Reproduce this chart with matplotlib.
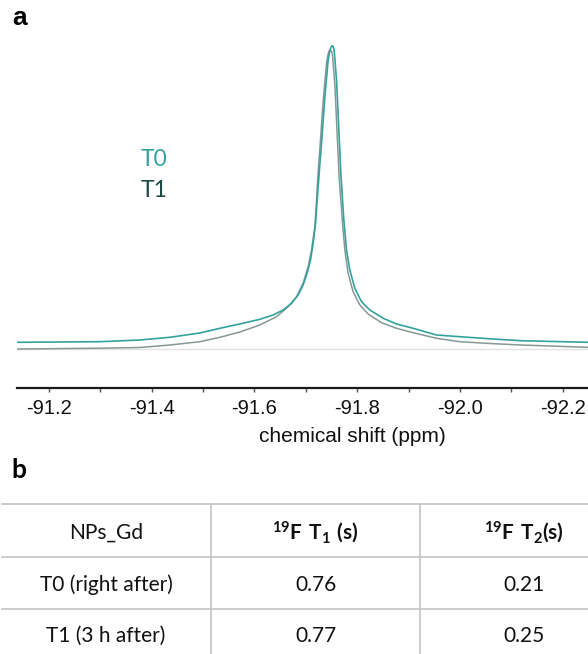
import numpy as np
import matplotlib
matplotlib.use("Agg")
import matplotlib.pyplot as plt
from matplotlib.ticker import MultipleLocator, FormatStrFormatter

plt.rcParams['axes.unicode_minus'] = False
plt.rcParams['mathtext.fontset'] = 'custom'
plt.rcParams['mathtext.rm'] = 'Lato'
plt.rcParams['mathtext.bf'] = 'Lato:bold'

# spectrum T0 (right after)
ppm_t0 = [-91.1377, -91.1436, -91.2992, -91.3770, -91.4354, -91.4938, -91.5327,
          -91.5716, -91.6105, -91.6364, -91.6558, -91.6722, -91.6850, -91.6947,
          -91.7025, -91.7091, -91.7142, -91.7189, -91.7220, -91.7263, -91.7305,
          -91.7370, -91.7434, -91.7459, -91.7481, -91.7512, -91.7531, -91.7551,
          -91.7597, -91.7642, -91.7681, -91.7714, -91.7739, -91.7792, -91.7856,
          -91.7953, -91.8084, -91.8245, -91.8504, -91.8765, -91.9088, -91.9543,
          -91.9996, -92.0580, -92.1183, -92.2486]
int_t0 = [6.7, 6.7, 7.3, 9.0, 11.7, 16.0, 20.7,
          25.0, 29.7, 34.0, 39.0, 45.7, 54.0, 64.0,
          75.7, 89.0, 105.7, 125.7, 149.0, 178.0, 205.7,
          252.0, 289.0, 296.0, 300.7, 303.3, 302.5, 299.0,
          269.0, 219.0, 175.7, 149.0, 129.0, 99.0, 79.0,
          60.7, 47.3, 39.0, 30.7, 25.0, 20.7, 14.0,
          12.3, 10.2, 8.3, 6.7]

# spectrum T1 (3 h after)
ppm_t1 = [-91.1377, -91.1436, -91.2992, -91.3770, -91.4354, -91.4938, -91.5327,
          -91.5716, -91.6105, -91.6430, -91.6656, -91.6819, -91.6947, -91.7045,
          -91.7111, -91.7175, -91.7208, -91.7237, -91.7278, -91.7340, -91.7405,
          -91.7432, -91.7451, -91.7477, -91.7500, -91.7516, -91.7564, -91.7609,
          -91.7648, -91.7681, -91.7714, -91.7759, -91.7823, -91.7920, -91.8051,
          -91.8212, -91.8473, -91.8765, -91.9088, -91.9543, -91.9996, -92.0580,
          -92.1183, -92.2486]
int_t1 = [0.0, 0.0, 0.8, 1.5, 4.0, 7.3, 11.7,
          17.0, 24.0, 32.3, 42.3, 52.3, 65.7, 82.3,
          99.0, 122.3, 149.0, 175.0, 204.0, 250.0, 287.0,
          294.5, 298.0, 299.0, 297.5, 295.0, 265.0, 215.0,
          172.0, 149.0, 125.7, 99.0, 75.7, 57.3, 44.0,
          35.0, 26.3, 20.7, 16.3, 10.7, 7.3, 5.5,
          4.0, 1.7]

# relaxation table
col_headers = ['NPs_Gd', r'$\mathbf{^{19}F\ T_1\ (s)}$', r'$\mathbf{^{19}F\ T_2(s)}$']
row_names = ['T0 (right after)', 'T1 (3 h after)']
t1_vals = ['0.76', '0.77']
t2_vals = ['0.21', '0.25']

teal = '#33a29d'
grey = '#879797'

W, H = 588, 654
fig = plt.figure(figsize=(W / 100, H / 100), dpi=100)

# panel a
ax = fig.add_axes([17 / W, 1 - 388 / H, 1 - 17 / W, (388 - 30) / H])
ax.axhline(0, color='#e2e2e2', lw=1.0, zorder=1)
ax.plot(ppm_t1, int_t1, color=grey, lw=1.1, zorder=2)
ax.plot(ppm_t0, int_t0, color=teal, lw=1.2, zorder=3)
ax.set_xlim(-91.138, -92.249)
ax.set_ylim(-39, 319)
for s in ['left', 'right', 'top']:
    ax.spines[s].set_visible(False)
ax.spines['bottom'].set_linewidth(1.6)
ax.spines['bottom'].set_color('#1a1a1a')
ax.set_yticks([])
ax.xaxis.set_major_locator(MultipleLocator(0.2))
ax.xaxis.set_minor_locator(MultipleLocator(0.1))
ax.xaxis.set_major_formatter(FormatStrFormatter('%.1f'))
ax.tick_params(axis='x', which='both', direction='out', length=3, width=1,
               color='#555555', pad=5)
for lab in ax.get_xticklabels():
    lab.set_fontfamily('Liberation Sans')
    lab.set_fontsize(14.5)
    lab.set_color('#111111')

fig.text(352 / W, 1 - 437 / H, 'chemical shift (ppm)', ha='center', va='center',
         family='Liberation Sans', fontsize=15, color='#111111')
fig.text(141 / W, 1 - 166 / H, 'T0', ha='left', va='baseline',
         family='Lato', fontsize=16.5, color=teal)
fig.text(141 / W, 1 - 197 / H, 'T1', ha='left', va='baseline',
         family='Lato', fontsize=16.5, color='#1d4a47')
fig.text(12 / W, 1 - 25 / H, 'a', ha='left', va='baseline',
         family='Liberation Sans', fontweight='bold', fontsize=19)

# panel b
fig.text(11 / W, 1 - 478 / H, 'b', ha='left', va='baseline',
         family='Lato', fontweight='bold', fontsize=19)

tab = fig.add_axes([0, 0, 1, 1])
tab.set_xlim(0, W)
tab.set_ylim(H, 0)
tab.axis('off')
line_c = '#c4c4c4'
for yy in [504, 557, 609]:
    tab.plot([2, W], [yy, yy], color=line_c, lw=1.2)
for xx in [211, 420]:
    tab.plot([xx, xx], [504, H], color=line_c, lw=1.2)

col_x = [106, 315.5, 524]
row_base = [539, 591, 642]
for j, h in enumerate(col_headers):
    tab.text(col_x[j], row_base[0], h, ha='center', va='baseline',
             family='Lato', fontsize=15, fontweight='bold' if j else 'normal',
             color='#111111')
for i in range(len(row_names)):
    cells = [row_names[i], t1_vals[i], t2_vals[i]]
    for j, c in enumerate(cells):
        tab.text(col_x[j], row_base[i + 1], c, ha='center', va='baseline',
                 family='Lato', fontsize=15, color='#111111')

fig.savefig('out.png', dpi=100)
